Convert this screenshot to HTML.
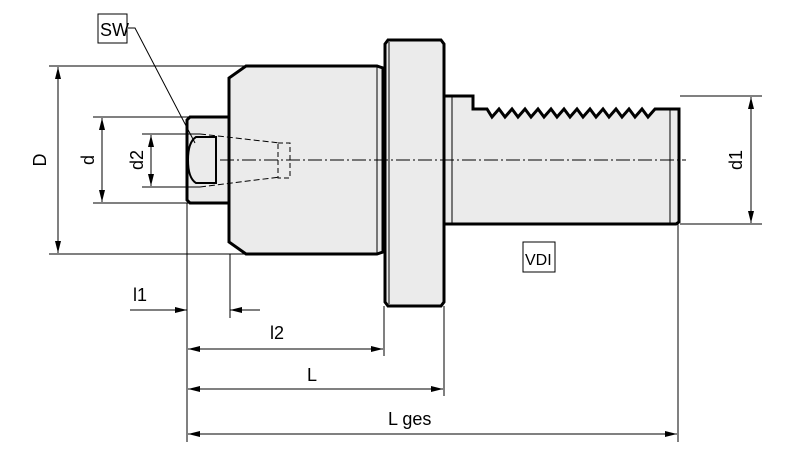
<!DOCTYPE html>
<html><head><meta charset="utf-8"><style>
html,body{margin:0;padding:0;background:#fff;}
svg{display:block;}
text{font-family:"Liberation Sans",sans-serif;font-size:18px;fill:#000;}
</style></head><body>
<svg width="800" height="461" viewBox="0 0 800 461" xmlns="http://www.w3.org/2000/svg">
<defs>
<marker id="a" viewBox="0 0 12 6" refX="12" refY="3" markerWidth="12" markerHeight="6" orient="auto-start-reverse" markerUnits="userSpaceOnUse"><path d="M0,0 L12,3 L0,6 z" fill="#000"/></marker>
</defs>
<g stroke="#000" fill="#ebebeb">
<path d="M385,44 L388,40 L441,40 L444,44 L444,302 L441,306 L388,306 L385,302 Z" stroke-width="3"/>
<line x1="389" y1="42" x2="389" y2="304" stroke-width="1"/>
<path d="M246,66 L377,66 L383,68 L383,252 L377,254 L246,254 L229,242 L229,78 Z" stroke-width="3"/>
<line x1="377" y1="66" x2="377" y2="254" stroke-width="1"/>
<path d="M444,96 L473,96 L473,109 L487,109 L492,117 L499,109 L505,117 L512,109 L518,117 L525,109 L531,117 L538,109 L544,117 L551,109 L557,117 L564,109 L570,117 L577,109 L583,117 L590,109 L596,117 L603,109 L609,117 L616,109 L622,117 L629,109 L635,117 L642,109 L648,117 L655,109 L679,109 L679,222 L676,224 L444,224 Z" stroke-width="3"/>
<line x1="452" y1="97" x2="452" y2="223" stroke-width="1"/>
<line x1="670" y1="110" x2="670" y2="223" stroke-width="1"/>
<path d="M190,117 L229,117 L229,203 L190,203 L187,200 L187,120 Z" stroke-width="3"/>
<path d="M196,137 L216,137 L216,183 L196,183 Q188,178 188,160 Q188,142 196,137 Z" stroke-width="2"/>
</g>
<g stroke="#000" fill="none">
<path d="M200,134 L280,143 M200,187 L280,177" stroke-width="1" stroke-dasharray="6,3"/>
<rect x="278" y="143" width="12" height="35" stroke-width="1" stroke-dasharray="5,3"/>
<line x1="220" y1="160" x2="686" y2="160" stroke-width="1" stroke-dasharray="14,3,2,3"/>
<rect x="98" y="14" width="29" height="29" stroke-width="1"/>
<polyline points="128,28 135,28 195,143" stroke-width="1"/>
<line x1="49" y1="66" x2="246" y2="66" stroke-width="1"/>
<line x1="49" y1="254" x2="246" y2="254" stroke-width="1"/>
<line x1="58" y1="67" x2="58" y2="253" stroke-width="1" marker-start="url(#a)" marker-end="url(#a)"/>
<line x1="93" y1="117" x2="190" y2="117" stroke-width="1"/>
<line x1="93" y1="203" x2="190" y2="203" stroke-width="1"/>
<line x1="102" y1="118" x2="102" y2="202" stroke-width="1" marker-start="url(#a)" marker-end="url(#a)"/>
<line x1="142" y1="134" x2="200" y2="134" stroke-width="1"/>
<line x1="142" y1="187" x2="200" y2="187" stroke-width="1"/>
<line x1="151" y1="135" x2="151" y2="186" stroke-width="1" marker-start="url(#a)" marker-end="url(#a)"/>
<line x1="680" y1="96" x2="762" y2="96" stroke-width="1"/>
<line x1="680" y1="224" x2="762" y2="224" stroke-width="1"/>
<line x1="751" y1="97" x2="751" y2="223" stroke-width="1" marker-start="url(#a)" marker-end="url(#a)"/>
<rect x="523" y="242" width="32" height="30" stroke-width="1"/>
<line x1="187" y1="203" x2="187" y2="442" stroke-width="1"/>
<line x1="230" y1="254" x2="230" y2="318" stroke-width="1"/>
<line x1="384" y1="306" x2="384" y2="356" stroke-width="1"/>
<line x1="444" y1="306" x2="444" y2="396" stroke-width="1"/>
<line x1="678" y1="224" x2="678" y2="442" stroke-width="1"/>
<line x1="130" y1="310" x2="187" y2="310" stroke-width="1" marker-end="url(#a)"/>
<line x1="260" y1="310" x2="230" y2="310" stroke-width="1" marker-end="url(#a)"/>
<line x1="188" y1="349" x2="383" y2="349" stroke-width="1" marker-start="url(#a)" marker-end="url(#a)"/>
<line x1="188" y1="389" x2="443" y2="389" stroke-width="1" marker-start="url(#a)" marker-end="url(#a)"/>
<line x1="188" y1="434" x2="677" y2="434" stroke-width="1" marker-start="url(#a)" marker-end="url(#a)"/>
</g>
<text x="100" y="36">SW</text>
<text x="525" y="265" style="font-size:16px">VDI</text>
<text x="133" y="301">l1</text>
<text x="270" y="339">l2</text>
<text x="307" y="381">L</text>
<text x="388" y="425">L  ges</text>
<text transform="translate(46,160) rotate(-90)" text-anchor="middle">D</text>
<text transform="translate(94,160) rotate(-90)" text-anchor="middle">d</text>
<text transform="translate(143,160) rotate(-90)" text-anchor="middle">d2</text>
<text transform="translate(742,160) rotate(-90)" text-anchor="middle">d1</text>
</svg>
</body></html>
